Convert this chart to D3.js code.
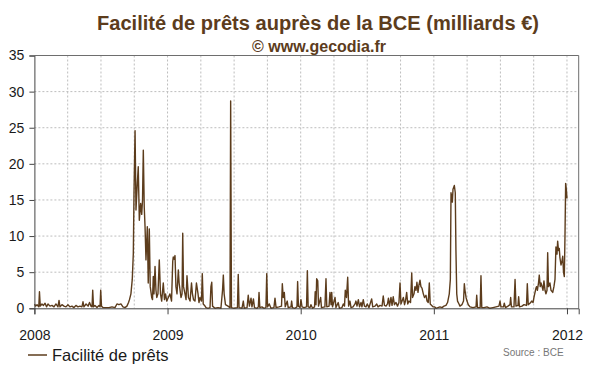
<!DOCTYPE html>
<html>
<head>
<meta charset="utf-8">
<script src="https://cdn.jsdelivr.net/npm/d3@7"></script>
<style>
  body { margin: 0; background: #fff; }
  svg { display: block; font-family: Arial, "Liberation Sans", sans-serif; }
</style>
</head>
<body>
<svg id="chart" width="600" height="372"></svg>
<script>
// positions on the time axis are decimal years, values in billions of euros
var t2008 = [2008.002, 2008.008, 2008.020, 2008.033, 2008.038, 2008.044, 2008.057, 2008.068, 2008.080, 2008.091,
  2008.102, 2008.117, 2008.132, 2008.147, 2008.162, 2008.177, 2008.185, 2008.192, 2008.207, 2008.222,
  2008.237, 2008.252, 2008.267, 2008.282, 2008.297, 2008.312, 2008.327, 2008.342, 2008.357, 2008.365,
  2008.372, 2008.388, 2008.403, 2008.414, 2008.425, 2008.433, 2008.438, 2008.444, 2008.455, 2008.470,
  2008.485, 2008.493, 2008.498, 2008.504, 2008.515, 2008.538, 2008.560, 2008.583, 2008.605, 2008.620,
  2008.635, 2008.650, 2008.665, 2008.680, 2008.695, 2008.707, 2008.714, 2008.725, 2008.735, 2008.743,
  2008.748, 2008.756, 2008.763, 2008.773, 2008.780, 2008.788, 2008.798, 2008.806, 2008.812, 2008.818,
  2008.825, 2008.831, 2008.838, 2008.848, 2008.855, 2008.863, 2008.870, 2008.881, 2008.887, 2008.893,
  2008.898, 2008.906, 2008.913, 2008.919, 2008.928, 2008.938, 2008.947, 2008.956, 2008.968, 2008.977,
  2008.985, 2008.994];
var v2008 = [0.6, 0.3, 0.5, 0.2, 2.3, 0.3, 0.6, 0.4, 0.7, 0.2,
  0.6, 0.3, 0.4, 0.2, 0.6, 0.2, 1.1, 0.2, 0.5, 0.3,
  0.2, 0.5, 0.2, 0.3, 0.1, 0.4, 0.2, 0.3, 0.2, 0.9,
  0.2, 0.6, 0.3, 0.8, 0.3, 0.2, 2.5, 0.2, 0.4, 0.1,
  0.4, 0.2, 2.5, 0.3, 0.1, 0.1, 0.1, 0.2, 0.1, 0.6,
  0.5, 0.6, 0.2, 0.1, 0.3, 0.8, 1.2, 2, 4, 7.6,
  15.9, 24.6, 13.6, 17.3, 19.6, 12.2, 14.5, 13, 15, 21.9,
  14, 11.3, 6.7, 11.3, 3.5, 11, 3, 1.5, 1.2, 4.4,
  2, 5.8, 2.5, 1.5, 2, 6.7, 2, 1, 3.5, 1.2,
  2, 1];

var t2009 = [2009.006, 2009.018, 2009.030, 2009.039, 2009.043, 2009.050, 2009.056, 2009.063, 2009.071, 2009.081,
  2009.087, 2009.094, 2009.101, 2009.109, 2009.114, 2009.120, 2009.131, 2009.139, 2009.146, 2009.157,
  2009.169, 2009.180, 2009.187, 2009.195, 2009.206, 2009.217, 2009.229, 2009.236, 2009.244, 2009.255,
  2009.261, 2009.268, 2009.278, 2009.289, 2009.304, 2009.319, 2009.326, 2009.332, 2009.338, 2009.356,
  2009.379, 2009.401, 2009.413, 2009.419, 2009.425, 2009.435, 2009.454, 2009.469, 2009.474, 2009.480,
  2009.499, 2009.525, 2009.531, 2009.537, 2009.559, 2009.569, 2009.576, 2009.597, 2009.606, 2009.615,
  2009.627, 2009.634, 2009.645, 2009.653, 2009.672, 2009.682, 2009.687, 2009.693, 2009.709, 2009.724,
  2009.739, 2009.745, 2009.751, 2009.764, 2009.777, 2009.799, 2009.807, 2009.815, 2009.837, 2009.856,
  2009.862, 2009.869, 2009.877, 2009.884, 2009.899, 2009.906, 2009.927, 2009.932, 2009.938, 2009.957,
  2009.972, 2009.977, 2009.983, 2009.995];
var v2009 = [1.5, 2, 1, 6.5, 7.1, 6.8, 7.3, 3, 2, 5.3,
  3.5, 2.5, 1.5, 2, 10.4, 3, 2, 1.2, 4.5, 1.5,
  1, 3.5, 2, 1.2, 1, 3.5, 2, 0.8, 1.5, 1,
  4.8, 0.6, 0.4, 0.1, 0, 0.1, 3, 3.6, 0.3, 0,
  0.1, 0, 2.5, 4.6, 2, 0.5, 0.3, 0.1, 28.7, 0.1,
  0, 0.1, 4.7, 0.1, 0, 1, 0, 0.1, 1.8, 0.3,
  1.4, 0.2, 1.3, 0.1, 0, 0.2, 2.2, 0.1, 0.2, 0,
  0.1, 4.8, 0.2, 0.6, 0, 0.1, 1.4, 0.1, 0.2, 0.3,
  3.4, 1.5, 2.2, 0.2, 1, 0.1, 0.2, 1, 0.1, 0,
  0.2, 3.7, 0.3, 0.1];

var t2010 = [2010.002, 2010.010, 2010.025, 2010.044, 2010.050, 2010.056, 2010.070, 2010.077, 2010.089, 2010.104,
  2010.109, 2010.115, 2010.120, 2010.128, 2010.134, 2010.150, 2010.156, 2010.182, 2010.190, 2010.196,
  2010.213, 2010.220, 2010.228, 2010.233, 2010.239, 2010.258, 2010.265, 2010.282, 2010.291, 2010.310,
  2010.320, 2010.329, 2010.335, 2010.344, 2010.353, 2010.360, 2010.370, 2010.378, 2010.393, 2010.408,
  2010.415, 2010.423, 2010.433, 2010.442, 2010.453, 2010.460, 2010.470, 2010.479, 2010.490, 2010.500,
  2010.513, 2010.533, 2010.541, 2010.558, 2010.571, 2010.581, 2010.596, 2010.611, 2010.620, 2010.629,
  2010.641, 2010.652, 2010.659, 2010.667, 2010.678, 2010.686, 2010.695, 2010.704, 2010.716, 2010.727,
  2010.738, 2010.746, 2010.753, 2010.771, 2010.780, 2010.787, 2010.796, 2010.804, 2010.813, 2010.825,
  2010.834, 2010.840, 2010.851, 2010.858, 2010.866, 2010.873, 2010.881, 2010.888, 2010.896, 2010.903,
  2010.911, 2010.921, 2010.930, 2010.941, 2010.949, 2010.958, 2010.966, 2010.973, 2010.984, 2010.994];
var v2010 = [1.2, 0.2, 0.1, 0.2, 5.2, 0.2, 0.1, 0.5, 0, 0.2,
  2.3, 0.5, 4.1, 3.8, 0.3, 1.5, 0.1, 0.2, 4.1, 0.2,
  0.3, 2.2, 0.5, 2.2, 0.2, 1.5, 0.1, 0.8, 0, 0.1,
  0.6, 0.3, 2.5, 1.5, 4.3, 0.3, 1, 0.1, 0.2, 0.6,
  1, 0.3, 1.2, 0.2, 0.8, 0.2, 1.2, 0.3, 0.2, 0.6,
  0.1, 1.3, 0.2, 0.3, 0.6, 0.2, 0.4, 0.3, 1.7, 0.4,
  0.3, 0.6, 1.4, 0.3, 1.5, 0.4, 1.6, 0.5, 0.8, 0.3,
  0.8, 3.5, 0.6, 1.5, 0.5, 1, 2.2, 0.6, 1, 0.8,
  4.9, 1.5, 2, 3, 2.5, 3.6, 2.2, 3.2, 3.9, 3,
  2.8, 2, 1.5, 1.8, 1, 0.8, 3.5, 0.6, 0.4, 0.2];

var t2011 = [2011.005, 2011.016, 2011.031, 2011.046, 2011.061, 2011.076, 2011.091, 2011.103, 2011.116, 2011.124,
  2011.129, 2011.133, 2011.139, 2011.144, 2011.154, 2011.161, 2011.166, 2011.172, 2011.178, 2011.189,
  2011.196, 2011.211, 2011.223, 2011.229, 2011.234, 2011.242, 2011.249, 2011.259, 2011.272, 2011.294,
  2011.317, 2011.322, 2011.328, 2011.348, 2011.354, 2011.360, 2011.377, 2011.399, 2011.422, 2011.444,
  2011.467, 2011.489, 2011.497, 2011.504, 2011.523, 2011.529, 2011.538, 2011.557, 2011.572, 2011.577,
  2011.583, 2011.602, 2011.610, 2011.617, 2011.632, 2011.637, 2011.643, 2011.662, 2011.677, 2011.696,
  2011.702, 2011.709, 2011.722, 2011.735, 2011.745, 2011.752, 2011.760, 2011.767, 2011.772, 2011.778,
  2011.786, 2011.792, 2011.799, 2011.805, 2011.810, 2011.820, 2011.827, 2011.835, 2011.842, 2011.850,
  2011.855, 2011.861, 2011.872, 2011.880, 2011.893, 2011.902, 2011.910, 2011.917, 2011.925, 2011.930,
  2011.936, 2011.942, 2011.947, 2011.955, 2011.962, 2011.968, 2011.974, 2011.980, 2011.985, 2011.990,
  2011.995, 2012.000];
var v2011 = [0.2, 0, 0.1, 0.2, 0.1, 0.3, 0.4, 0.8, 2, 4,
  16, 15.5, 14.7, 16.5, 17, 16, 8, 2, 1, 0.6,
  0.3, 0.5, 1, 3.4, 2.5, 1.5, 1, 0.5, 0.2, 0.1,
  0.2, 1.8, 0.1, 0.1, 4.5, 0.1, 0.1, 0.2, 0, 0.1,
  0.2, 0.3, 1, 0.2, 0.2, 0.7, 0.1, 0.3, 0.5, 1.5,
  0.2, 0.2, 4, 0.3, 0.4, 1.6, 0.2, 0.3, 0.5, 0.4,
  3.4, 0.5, 0.7, 1, 0.8, 1.5, 2.2, 2.8, 3, 2.5,
  3.5, 4.6, 3, 3.5, 3.2, 2.5, 3.8, 2.5, 2, 2.5,
  7.7, 3, 3.5, 2.5, 2.2, 3, 4, 8.5, 7.5, 9.3,
  8, 8.3, 7, 6, 6.5, 7.2, 5, 4.4, 10, 17.3,
  16.5, 15.2];

var yTicks = [0, 5, 10, 15, 20, 25, 30, 35];
var yearTicks = [2008, 2009, 2010, 2011, 2012];
var seriesName = "Facilité de prêts";
var titleText = "Facilité de prêts auprès de la BCE (milliards €)";
var subtitleText = "© www.gecodia.fr";
var sourceText = "Source : BCE";

var data = [];
[[t2008, v2008], [t2009, v2009], [t2010, v2010], [t2011, v2011]].forEach(function (pair) {
  pair[0].forEach(function (t, i) { data.push({ t: t, v: pair[1][i] }); });
});

var svg = d3.select("#chart");
var brown = "#5c3c1c";

var x = d3.scaleLinear().domain([2008, 2012.088]).range([34.4, 578.7]);
var y = d3.scaleLinear().domain([0, 35]).range([308.3, 55.5]);

// grid
var quarters = d3.range(2008.25, 2012.05, 0.25);
svg.append("g").selectAll("line").data(quarters).enter().append("line")
  .attr("x1", function (d) { return x(d); }).attr("x2", function (d) { return x(d); })
  .attr("y1", y(35)).attr("y2", y(0))
  .attr("stroke", "#bdbdbd").attr("stroke-dasharray", "2,2");
svg.append("g").selectAll("line").data(yTicks.filter(function (d) { return d > 0 && d < 35; })).enter().append("line")
  .attr("x1", x.range()[0]).attr("x2", x.range()[1])
  .attr("y1", function (d) { return y(d); }).attr("y2", function (d) { return y(d); })
  .attr("stroke", "#bdbdbd").attr("stroke-dasharray", "2,2");

// frame top/right
svg.append("path")
  .attr("d", "M" + x.range()[0] + "," + y(35) + "H" + x.range()[1] + "V" + y(0))
  .attr("fill", "none").attr("stroke", "#6e6e6e");

// series
var line = d3.line().x(function (d) { return x(d.t); }).y(function (d) { return y(d.v); });
svg.append("path").datum(data)
  .attr("d", line)
  .attr("fill", "none").attr("stroke", brown).attr("stroke-width", 1.4).attr("stroke-linejoin", "round");

// axes
var yAxis = svg.append("g").attr("transform", "translate(" + x.range()[0] + ",0)")
  .call(d3.axisLeft(y).tickValues(yTicks).tickSize(5).tickPadding(5));
var xAxis = svg.append("g").attr("transform", "translate(0," + y(0) + ")")
  .call(d3.axisBottom(x).tickValues(yearTicks).tickFormat(d3.format("d")).tickSize(6).tickPadding(16));
[yAxis, xAxis].forEach(function (g) {
  g.select(".domain").attr("stroke", "#444");
  g.selectAll(".tick line").attr("stroke", "#444");
  g.selectAll("text").attr("fill", "#1a1a1a").style("font-size", "14px").style("font-family", "Arial, 'Liberation Sans', sans-serif");
});

// titles
svg.append("text").attr("x", 318).attr("y", 30).attr("text-anchor", "middle")
  .attr("fill", brown).style("font-size", "20px").style("font-weight", "bold")
  .attr("textLength", 442).attr("lengthAdjust", "spacingAndGlyphs")
  .text(titleText);
svg.append("text").attr("x", 319).attr("y", 52).attr("text-anchor", "middle")
  .attr("fill", brown).style("font-size", "16px").style("font-weight", "bold")
  .text(subtitleText);

// legend
svg.append("line").attr("x1", 28).attr("x2", 47).attr("y1", 355).attr("y2", 355)
  .attr("stroke", brown).attr("stroke-width", 1.5);
svg.append("text").attr("x", 52).attr("y", 361).attr("fill", "#1a1a1a")
  .style("font-size", "16.5px").text(seriesName);
svg.append("text").attr("x", 503).attr("y", 356).attr("fill", "#777")
  .style("font-size", "10px").text(sourceText);
</script>
</body>
</html>
